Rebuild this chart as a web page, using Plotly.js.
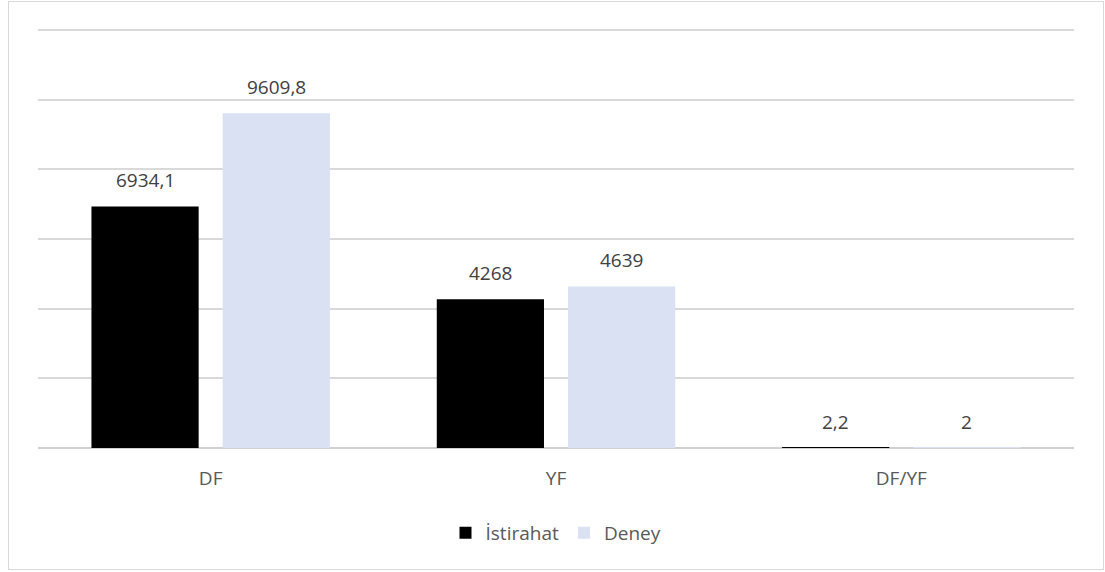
<!DOCTYPE html>
<html>
<head>
<meta charset="utf-8">
<script src="https://cdn.plot.ly/plotly-3.0.1.min.js"></script>
<style>
  body { margin: 0; background: #fff; }
  #grafico { width: 1105px; height: 572px; }
  #cerceve {
    position: absolute; left: 8px; top: 1px; width: 1094px; height: 567px;
    border: 1.5px solid #d9d9d9; pointer-events: none;
  }
</style>
</head>
<body>
<div id="grafico"></div>
<div id="cerceve"></div>
<script>
// Kategoriler ve seriler
const kategoriler = ['DF', 'YF', 'DF/YF'];
const istirahat = [6934.1, 4268, 2.2];
const deney = [9609.8, 4639, 2];

// Türkçe ondalık virgülü ile etiket
const etiket = v => String(v).replace('.', ',');

const data = [
    {
        x: kategoriler,
        y: istirahat,
        name: 'İstirahat',
        type: 'bar',
        marker: { color: '#000000', line: { width: 0 } }
    },
    {
        x: kategoriler,
        y: deney,
        name: 'Deney',
        type: 'bar',
        marker: { color: '#d9e1f2', line: { width: 0 } }
    }
];

// Değer etiketleri, çubuğun biraz üstünde (Excel'deki gibi)
const etiketFont = { family: 'Open Sans', size: 19, color: '#404040' };
const annotations = [];
[[istirahat, -65.5], [deney, 65.5]].forEach(([seri, kayma]) => {
    seri.forEach((v, i) => {
        annotations.push({
            x: kategoriler[i], y: v, text: etiket(v),
            xshift: kayma, yshift: 11, yanchor: 'bottom',
            showarrow: false, font: etiketFont
        });
    });
});

const layout = {
    width: 1105,
    height: 572,
    margin: { l: 38, r: 31, t: 23, b: 124 },
    barmode: 'group',
    bargap: 0.24,
    bargroupgap: 0.183,
    font: { family: 'Open Sans', size: 19, color: '#595959' },
    annotations: annotations,
    xaxis: {
        tickfont: { family: 'Open Sans', size: 19, color: '#595959' },
        showline: false,
        ticks: '',
        ticklabelstandoff: 17
    },
    yaxis: {
        range: [0, 12200],
        tick0: 0,
        dtick: 2000,
        showticklabels: false,
        gridcolor: '#d9d9d9',
        gridwidth: 1.5,
        zeroline: true,
        zerolinecolor: '#d0d0d0',
        zerolinewidth: 1.5
    },
    showlegend: true,
    legend: {
        orientation: 'h',
        x: 0.5, xanchor: 'center',
        y: -0.155, yanchor: 'top',
        font: { family: 'Open Sans', size: 19, color: '#595959' },
        itemwidth: 30
    },
    plot_bgcolor: '#ffffff',
    paper_bgcolor: '#ffffff'
};

Plotly.newPlot('grafico', data, layout, { displayModeBar: false });
</script>
</body>
</html>
